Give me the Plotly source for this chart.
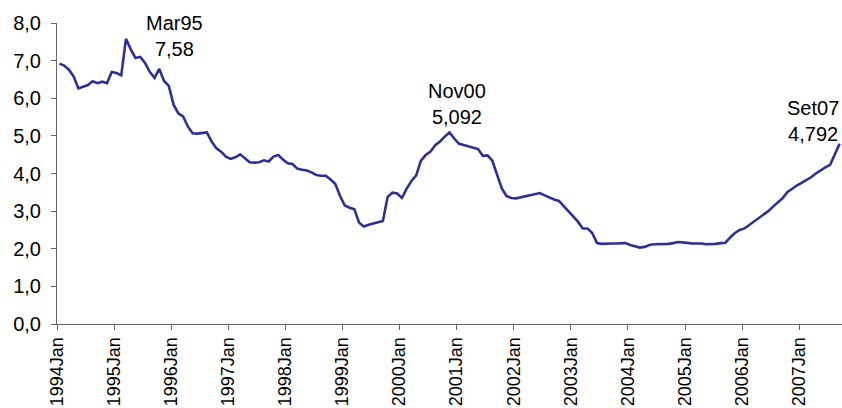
import plotly.graph_objects as go

# Monthly series, Jan 1994 - Sep 2007
years = list(range(1994, 2008))
month_names = ["Jan", "Feb", "Mar", "Apr", "May", "Jun",
               "Jul", "Aug", "Sep", "Oct", "Nov", "Dec"]
months = [f"{y}{m}" for y in years for m in month_names][:165]

values = [
    6.92, 6.87, 6.76, 6.58, 6.26, 6.31, 6.35, 6.45, 6.40, 6.44, 6.40, 6.70,
    6.67, 6.61, 7.58, 7.30, 7.07, 7.10, 6.94, 6.70, 6.54, 6.78, 6.46, 6.33,
    5.83, 5.60, 5.52, 5.25, 5.07, 5.06, 5.07, 5.09, 4.85, 4.67, 4.58, 4.45,
    4.39, 4.43, 4.51, 4.41, 4.30, 4.29, 4.30, 4.35, 4.32, 4.45, 4.49, 4.37,
    4.27, 4.25, 4.13, 4.10, 4.08, 4.03, 3.96, 3.94, 3.94, 3.84, 3.72, 3.40,
    3.15, 3.09, 3.05, 2.69, 2.59, 2.64, 2.68, 2.71, 2.74, 3.38, 3.49, 3.47,
    3.35, 3.60, 3.80, 3.95, 4.34, 4.49, 4.58, 4.75, 4.85, 4.98, 5.092, 4.93,
    4.79, 4.76, 4.73, 4.70, 4.65, 4.47, 4.48, 4.34, 3.95, 3.60, 3.40, 3.35,
    3.34, 3.37, 3.40, 3.43, 3.47, 3.48, 3.42, 3.36, 3.31, 3.27, 3.13, 2.98,
    2.86, 2.72, 2.54, 2.54, 2.42, 2.15, 2.13, 2.14, 2.14, 2.14, 2.15, 2.15,
    2.10, 2.06, 2.03, 2.05, 2.10, 2.12, 2.12, 2.12, 2.13, 2.15, 2.18, 2.17,
    2.15, 2.14, 2.14, 2.14, 2.12, 2.12, 2.13, 2.15, 2.16, 2.30, 2.42, 2.50,
    2.54, 2.63, 2.72, 2.80, 2.90, 3.00, 3.12, 3.23, 3.34, 3.50, 3.60, 3.68,
    3.75, 3.82, 3.90, 4.00, 4.09, 4.16, 4.23, 4.50, 4.792,
]

# Highlighted points: (short label, month index)
highlights = [("Mar95", 14), ("Nov00", 82), ("Set07", 164)]
highlight_shift = {"Mar95": (49, 3), "Nov00": (7, 28), "Set07": (-27, 23)}

y_ticks = [0, 1, 2, 3, 4, 5, 6, 7, 8]

n = len(values)
xpos = list(range(n))
year_starts = list(range(0, n, 12))

LINE = "#2E3192"
AXIS = "#666666"
FONT = "Liberation Sans, Arial, sans-serif"

fig = go.Figure()
fig.add_trace(go.Scatter(
    x=xpos, y=values, mode="lines",
    line=dict(color=LINE, width=2.6),
    hoverinfo="skip", showlegend=False,
))

for name, i in highlights:
    v = values[i]
    dx, dy = highlight_shift[name]
    fig.add_annotation(
        x=i, y=v, xref="x", yref="y",
        text=f"{name}<br>{str(v).replace('.', ',')}",
        showarrow=False, xanchor="center", yanchor="middle",
        xshift=dx, yshift=dy,
        font=dict(family=FONT, size=20, color="black"),
    )

fig.update_layout(
    width=842, height=408,
    margin=dict(l=57, r=0, t=23, b=84, autoexpand=False),
    paper_bgcolor="white", plot_bgcolor="white",
    separators=", ",
    font=dict(family=FONT, size=20, color="black"),
    showlegend=False,
)

fig.update_xaxes(
    range=[-0.5, n - 0.5],
    tickmode="array",
    tickvals=[i - 0.5 for i in year_starts],
    ticktext=[months[i] for i in year_starts],
    tickangle=-90,
    ticks="outside", ticklen=5, tickcolor=AXIS, tickwidth=1,
    ticklabelstandoff=0,
    automargin=False,
    showline=True, linecolor=AXIS, linewidth=1,
    showgrid=False, zeroline=False,
    tickfont=dict(family=FONT, size=18, color="black"),
)

fig.update_yaxes(
    range=[0, 8],
    tickmode="array",
    tickvals=y_ticks,
    tickformat=".1f",
    ticks="outside", ticklen=5, tickcolor=AXIS, tickwidth=1,
    ticklabelstandoff=6,
    automargin=False,
    showline=True, linecolor=AXIS, linewidth=1,
    showgrid=False, zeroline=False,
    tickfont=dict(family=FONT, size=20, color="black"),
)

fig.write_html("out.html")
